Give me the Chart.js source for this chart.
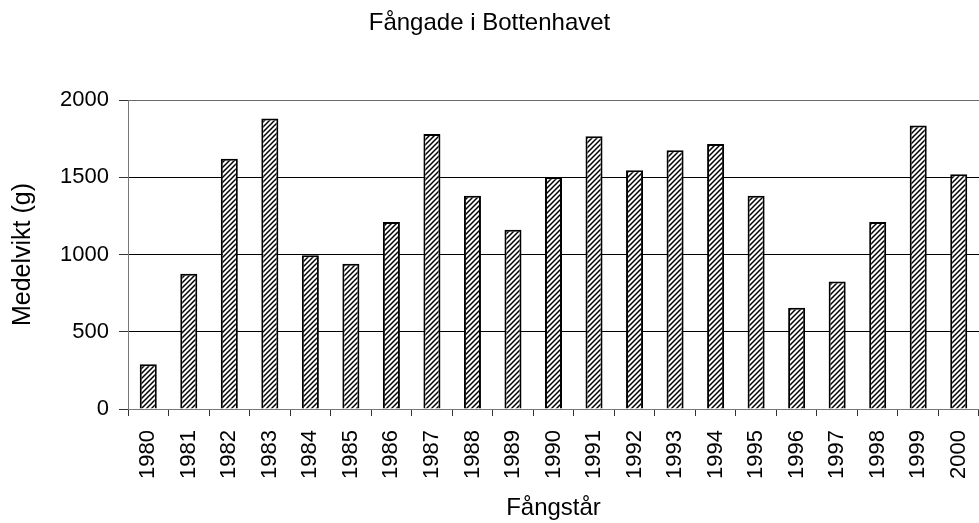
<!DOCTYPE html>
<html>
<head>
<meta charset="utf-8">
<script src="https://cdn.jsdelivr.net/npm/chart.js@4/dist/chart.umd.min.js"></script>
<style>
  html, body { margin: 0; padding: 0; background: #fff; overflow: hidden; }
  #c { display: block; }
</style>
</head>
<body>
<canvas id="c" width="979" height="523"></canvas>
<script>
const years = ['1980','1981','1982','1983','1984','1985','1986','1987','1988','1989','1990',
               '1991','1992','1993','1994','1995','1996','1997','1998','1999','2000'];
const meanWeight = [290, 875, 1620, 1880, 995, 940, 1210, 1780, 1380, 1160, 1500,
                    1765, 1545, 1675, 1715, 1380, 655, 825, 1210, 1835, 1520];
const yTickValues = [0, 500, 1000, 1500, 2000];
const chartTitle = 'Fångade i Bottenhavet';
const yTitle = 'Medelvikt (g)';
const xTitle = 'Fångstår';

function hatchPattern() {
  const s = 5;
  const pc = document.createElement('canvas');
  pc.width = s; pc.height = s;
  const p = pc.getContext('2d');
  p.fillStyle = '#fff';
  p.fillRect(0, 0, s, s);
  p.strokeStyle = '#000';
  p.lineWidth = 1.5;
  p.beginPath();
  p.moveTo(-1, s + 1); p.lineTo(s + 1, -1);
  p.moveTo(-1, 1); p.lineTo(1, -1);
  p.moveTo(s - 1, s + 1); p.lineTo(s + 1, s - 1);
  p.stroke();
  return document.getElementById('c').getContext('2d').createPattern(pc, 'repeat');
}

const FONT = "'Liberation Sans', Arial, Helvetica, sans-serif";

new Chart(document.getElementById('c'), {
  type: 'bar',
  data: {
    labels: years,
    datasets: [{
      data: meanWeight,
      backgroundColor: hatchPattern(),
      borderColor: '#000',
      borderWidth: 2,
      barPercentage: 0.42,
      categoryPercentage: 1.0
    }]
  },
  options: {
    responsive: false,
    animation: false,
    devicePixelRatio: 1,
    layout: { padding: 0 },
    plugins: {
      legend: { display: false },
      tooltip: { enabled: false },
      title: {
        display: true,
        text: chartTitle,
        color: '#000',
        font: { family: FONT, size: 24, weight: 'normal' },
        padding: { top: 8.6, bottom: 62.6 }
      }
    },
    scales: {
      x: {
        offset: true,
        grid: {
          display: true,
          offset: true,
          drawOnChartArea: false,
          drawTicks: true,
          tickLength: 7,
          tickColor: '#333',
          color: '#333'
        },
        border: { display: true, color: '#777', width: 1 },
        ticks: {
          color: '#000',
          font: { family: FONT, size: 22 },
          minRotation: 90,
          maxRotation: 90,
          padding: 14,
          autoSkip: false
        },
        title: {
          display: true,
          text: xTitle,
          color: '#000',
          font: { family: FONT, size: 24 },
          padding: { top: 0, bottom: 0 }
        },
        afterFit: (s) => { s.height = 114; s.paddingLeft = 0; s.paddingRight = 0; }
      },
      y: {
        min: 0,
        max: 2000,
        afterBuildTicks: (s) => { s.ticks = yTickValues.map(v => ({ value: v })); },
        grid: {
          color: (ctx) => (ctx.tick && ctx.tick.value === 2000) ? '#6a6a6a' : (ctx.tick && ctx.tick.value === 0 ? '#777' : '#000'),
          tickColor: '#333',
          tickLength: 9,
          lineWidth: 1
        },
        border: { display: true, color: '#777', width: 1 },
        ticks: {
          color: '#000',
          font: { family: FONT, size: 22 },
          padding: 10,
          callback: (v) => String(v)
        },
        title: {
          display: true,
          text: yTitle,
          color: '#000',
          font: { family: FONT, size: 25 },
          padding: { top: 8, bottom: 0 }
        },
        afterFit: (s) => { s.width = 128; s.paddingTop = 0; s.paddingBottom = 0; }
      }
    }
  }
});
</script>
</body>
</html>
